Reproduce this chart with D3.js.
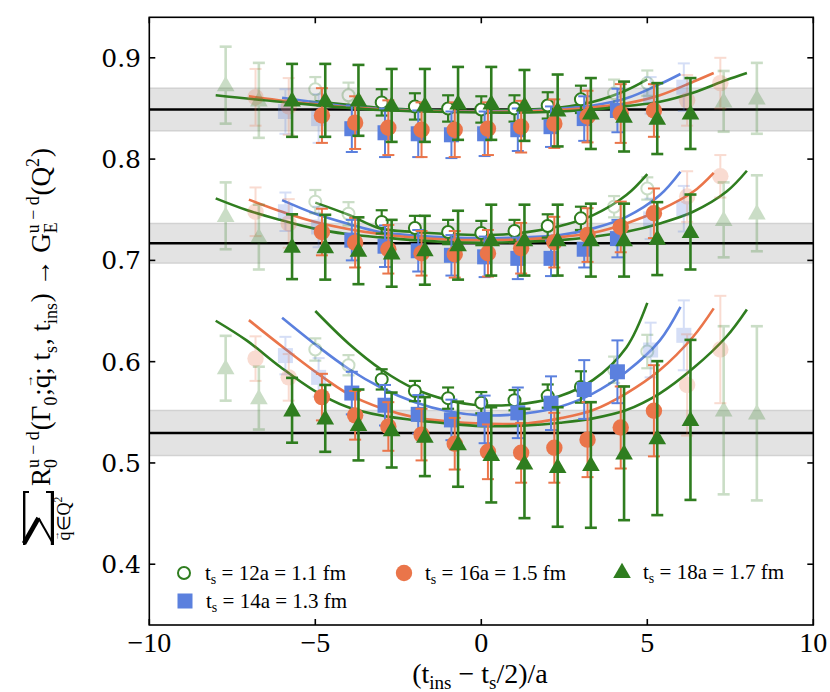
<!DOCTYPE html>
<html>
<head>
<meta charset="utf-8">
<script src="https://cdn.jsdelivr.net/npm/d3@7"></script>
<style>
  body { margin: 0; background: #fff; }
  svg { display: block; }
</style>
</head>
<body>
<div id="chart"></div>
<script>
// source-sink separations and the fit window (|x| <= half) for each
const tsList = [12, 14, 16, 18];
const fitHalf = [3, 4, 5, 6];

const xTs12 = [-5, -4, -3, -2, -1, 0, 1, 2, 3, 4, 5];
const xTs14 = [-6, -5, -4, -3, -2, -1, 0, 1, 2, 3, 4, 5, 6];
const xTs16 = [-7, -6, -5, -4, -3, -2, -1, 0, 1, 2, 3, 4, 5, 6, 7];
const xTs18 = [-8, -7, -6, -5, -4, -3, -2, -1, 0, 1, 2, 3, 4, 5, 6, 7, 8];

// top Q^2 bin
const q1Ts12 = [0.869, 0.863, 0.856, 0.852, 0.850, 0.849, 0.850, 0.853, 0.859, 0.865, 0.875];
const q1Ts12Err = [0.012, 0.0125, 0.013, 0.013, 0.013, 0.013, 0.013, 0.013, 0.0135, 0.0135, 0.0125];
const q1Ts14 = [0.847, 0.840, 0.830, 0.826, 0.825, 0.824, 0.825, 0.829, 0.832, 0.840, 0.848, 0.863, 0.871];
const q1Ts14Err = [0.022, 0.024, 0.023, 0.024, 0.023, 0.023, 0.022, 0.021, 0.020, 0.022, 0.0215, 0.018, 0.0235];
const q1Ts16 = [0.861, 0.852, 0.843, 0.836, 0.831, 0.829, 0.829, 0.830, 0.832, 0.835, 0.842, 0.845, 0.848, 0.858, 0.875];
const q1Ts16Err = [0.028, 0.028, 0.027, 0.026, 0.027, 0.027, 0.027, 0.026, 0.0255, 0.024, 0.0255, 0.029, 0.026, 0.025, 0.025];
const q1Ts18 = [0.873, 0.858, 0.858, 0.858, 0.858, 0.853, 0.853, 0.855, 0.855, 0.853, 0.848, 0.845, 0.842, 0.840, 0.845, 0.857, 0.860];
const q1Ts18Err = [0.038, 0.037, 0.036, 0.036, 0.035, 0.036, 0.036, 0.036, 0.036, 0.035, 0.0355, 0.035, 0.0345, 0.035, 0.035, 0.030, 0.035];

// middle Q^2 bin
const q2Ts12 = [0.758, 0.746, 0.738, 0.732, 0.728, 0.727, 0.729, 0.734, 0.7415, 0.753, 0.771];
const q2Ts12Err = [0.0115, 0.0115, 0.0115, 0.012, 0.012, 0.012, 0.011, 0.0115, 0.0115, 0.0105, 0.011];
const q2Ts14 = [0.748, 0.733, 0.720, 0.714, 0.7095, 0.705, 0.7035, 0.702, 0.702, 0.711, 0.7215, 0.741, 0.751];
const q2Ts14Err = [0.019, 0.02, 0.020, 0.0205, 0.0205, 0.020, 0.020, 0.0205, 0.0175, 0.018, 0.0185, 0.02, 0.0225];
const q2Ts16 = [0.748, 0.7365, 0.728, 0.7175, 0.711, 0.707, 0.706, 0.707, 0.712, 0.718, 0.725, 0.733, 0.7465, 0.763, 0.783];
const q2Ts16Err = [0.024, 0.024, 0.023, 0.0245, 0.024, 0.022, 0.023, 0.023, 0.025, 0.025, 0.0265, 0.025, 0.0245, 0.025, 0.021];
const q2Ts18 = [0.744, 0.723, 0.7135, 0.713, 0.7095, 0.707, 0.710, 0.715, 0.720, 0.720, 0.720, 0.720, 0.720, 0.7215, 0.728, 0.740, 0.7465];
const q2Ts18Err = [0.033, 0.032, 0.032, 0.032, 0.033, 0.033, 0.034, 0.034, 0.035, 0.035, 0.035, 0.036, 0.036, 0.036, 0.037, 0.037, 0.0375];

// bottom Q^2 bin
const q3Ts12 = [0.612, 0.5965, 0.5825, 0.571, 0.564, 0.5595, 0.562, 0.566, 0.575, 0.592, 0.610];
const q3Ts12Err = [0.011, 0.010, 0.010, 0.010, 0.0105, 0.0105, 0.010, 0.0115, 0.0155, 0.013, 0.0165];
const q3Ts14 = [0.606, 0.5845, 0.569, 0.557, 0.548, 0.5425, 0.543, 0.5495, 0.559, 0.5725, 0.590, 0.6115, 0.626];
const q3Ts14Err = [0.0185, 0.019, 0.021, 0.020, 0.019, 0.020, 0.0235, 0.025, 0.0265, 0.029, 0.031, 0.027, 0.0345];
const q3Ts16 = [0.603, 0.5845, 0.565, 0.547, 0.536, 0.528, 0.519, 0.511, 0.510, 0.515, 0.523, 0.535, 0.5515, 0.577, 0.612];
const q3Ts16Err = [0.022, 0.023, 0.023, 0.024, 0.024, 0.0255, 0.0255, 0.027, 0.0295, 0.0345, 0.037, 0.0405, 0.045, 0.05, 0.053];
const q3Ts18 = [0.5935, 0.564, 0.552, 0.544, 0.5375, 0.5325, 0.526, 0.5185, 0.508, 0.4995, 0.496, 0.498, 0.5095, 0.5245, 0.5425, 0.552, 0.549];
const q3Ts18Err = [0.032, 0.031, 0.032, 0.033, 0.035, 0.037, 0.039, 0.042, 0.047, 0.054, 0.059, 0.062, 0.066, 0.076, 0.079, 0.083, 0.086];

// fitted curves, [x, R]
const fit1Ts12 = [[-5, 0.857], [-3, 0.8505], [-1, 0.848], [0, 0.8478], [1, 0.8485], [2.37, 0.851], [3.37, 0.8566], [4.37, 0.868], [5, 0.8787]];
const fit1Ts14 = [[-6, 0.8605], [-5, 0.856], [-4, 0.852], [-2, 0.848], [0, 0.847], [2, 0.849], [3.37, 0.853], [4.37, 0.860], [5.38, 0.874], [6, 0.884]];
const fit1Ts16 = [[-7, 0.862], [-5.07, 0.8543], [-3, 0.849], [-1, 0.847], [1, 0.847], [3, 0.850], [4.37, 0.855], [5.38, 0.863], [6.38, 0.8763], [7, 0.885]];
const fit1Ts18 = [[-8, 0.863], [-6.06, 0.8566], [-3.05, 0.8484], [0, 0.846], [2, 0.8465], [3.37, 0.849], [4.37, 0.8523], [5.38, 0.8566], [6.38, 0.8655], [7.38, 0.878], [8, 0.885]];

const fit2Ts12 = [[-5, 0.757], [-4, 0.745], [-3.05, 0.7316], [-2, 0.728], [0, 0.725], [1, 0.7265], [2.37, 0.734], [3.37, 0.7447], [4.37, 0.7645], [5, 0.7852]];
const fit2Ts14 = [[-6, 0.7595], [-5, 0.746], [-4, 0.736], [-3.05, 0.728], [-1, 0.7225], [0, 0.7217], [1, 0.7225], [2.37, 0.725], [3.37, 0.7316], [4.37, 0.743], [5.38, 0.7645], [6, 0.7875]];
const fit2Ts16 = [[-7, 0.760], [-6, 0.748], [-5, 0.738], [-3.05, 0.726], [-1, 0.7205], [0, 0.720], [1, 0.7205], [2.37, 0.723], [3.37, 0.7273], [4.37, 0.7365], [5.38, 0.7497], [6.38, 0.7677], [7, 0.7865]];
const fit2Ts18 = [[-8, 0.7612], [-7.07, 0.7497], [-6.06, 0.740], [-5.06, 0.7316], [-4.05, 0.726], [-3.05, 0.7227], [-1, 0.718], [0, 0.7174], [1, 0.718], [2.37, 0.720], [3.37, 0.7233], [4.37, 0.7282], [5.38, 0.7365], [6.38, 0.748], [7.38, 0.7677], [8, 0.7885]];

const fit3Ts12 = [[-5, 0.650], [-4, 0.618], [-3, 0.592], [-2, 0.573], [-1, 0.562], [0, 0.557], [1.36, 0.5588], [2.37, 0.566], [3.37, 0.582], [4.37, 0.614], [5, 0.658]];
const fit3Ts14 = [[-6, 0.6433], [-5, 0.617], [-4, 0.593], [-3, 0.574], [-2, 0.560], [-1, 0.551], [0, 0.547], [1.36, 0.549], [2.37, 0.5555], [3.37, 0.5687], [4.37, 0.590], [5.38, 0.621], [6, 0.654]];
const fit3Ts16 = [[-7, 0.641], [-6, 0.615], [-5, 0.590], [-4, 0.568], [-3, 0.554], [-2, 0.545], [-1, 0.541], [0, 0.539], [1.36, 0.539], [2.37, 0.544], [3.37, 0.5522], [4.37, 0.5687], [5.38, 0.5917], [6.38, 0.6246], [7, 0.6526]];
const fit3Ts18 = [[-8, 0.6404], [-7.07, 0.621], [-6.06, 0.595], [-5.06, 0.572], [-4.05, 0.5555], [-3.05, 0.547], [-2.04, 0.5424], [-1.04, 0.539], [0, 0.5364], [1.36, 0.537], [2.37, 0.5397], [3.37, 0.544], [4.37, 0.5522], [5.38, 0.5687], [6.38, 0.5934], [7.38, 0.6246], [8, 0.6516]];

// plateau results G_E(Q^2) with their errors
const gMean = [0.849, 0.717, 0.5295];
const gErr = [0.021, 0.0195, 0.0222];

const xTicks = [-10, -5, 0, 5, 10];
const yTicks = [0.4, 0.5, 0.6, 0.7, 0.8, 0.9];

// ---- styles ----
const green = "#2f7d1f", orange = "#ea754a", blue = "#5b80de";
const style = {
  12: { color: green, shape: "open", dodge: 0.0, sw: 2.2 },
  14: { color: blue, shape: "square", dodge: 0.1, sw: 2 },
  16: { color: orange, shape: "circle", dodge: 0.2, sw: 2 },
  18: { color: green, shape: "triangle", dodge: 0.3, sw: 2.6 }
};
const fadeAlpha = 0.25;

const W = 830, H = 692;
const svg = d3.select("#chart").append("svg").attr("width", W).attr("height", H);

const x = d3.scaleLinear().domain([-10, 10]).range([149.3, 813.3]);
const y = d3.scaleLinear().domain([0.34, 0.94]).range([625, 17.3]);

const xsBy = { 12: xTs12, 14: xTs14, 16: xTs16, 18: xTs18 };
const groups = [
  { vals: [q1Ts12, q1Ts14, q1Ts16, q1Ts18], errs: [q1Ts12Err, q1Ts14Err, q1Ts16Err, q1Ts18Err], fits: [fit1Ts12, fit1Ts14, fit1Ts16, fit1Ts18] },
  { vals: [q2Ts12, q2Ts14, q2Ts16, q2Ts18], errs: [q2Ts12Err, q2Ts14Err, q2Ts16Err, q2Ts18Err], fits: [fit2Ts12, fit2Ts14, fit2Ts16, fit2Ts18] },
  { vals: [q3Ts12, q3Ts14, q3Ts16, q3Ts18], errs: [q3Ts12Err, q3Ts14Err, q3Ts16Err, q3Ts18Err], fits: [fit3Ts12, fit3Ts14, fit3Ts16, fit3Ts18] }
];

// bands and plateau lines
const bands = svg.append("g");
gMean.forEach((g, i) => {
  bands.append("rect")
    .attr("x", x(-10)).attr("width", x(10) - x(-10))
    .attr("y", y(g + gErr[i])).attr("height", y(g - gErr[i]) - y(g + gErr[i]))
    .attr("fill", "#e3e3e3");
  [g + gErr[i], g - gErr[i]].forEach(v => {
    bands.append("line").attr("x1", x(-10)).attr("x2", x(10))
      .attr("y1", y(v)).attr("y2", y(v))
      .attr("stroke", "#d2d2d2").attr("stroke-width", 1.5);
  });
  bands.append("line").attr("x1", x(-10)).attr("x2", x(10))
    .attr("y1", y(g)).attr("y2", y(g))
    .attr("stroke", "#000").attr("stroke-width", 2.5);
});

// fit curves
const line = d3.line().x(d => x(d[0])).y(d => y(d[1])).curve(d3.curveCatmullRom.alpha(0.5));
const curves = svg.append("g");
groups.forEach(gr => {
  gr.fits.forEach((f, k) => {
    curves.append("path").datum(f)
      .attr("d", line).attr("fill", "none")
      .attr("stroke", style[tsList[k]].color).attr("stroke-width", 2.6);
  });
});

function marker(sel, shape, color, px, py) {
  if (shape === "open") {
    sel.append("circle").attr("cx", px).attr("cy", py).attr("r", 6)
      .attr("fill", "#fff").attr("stroke", color).attr("stroke-width", 2);
  } else if (shape === "circle") {
    sel.append("circle").attr("cx", px).attr("cy", py).attr("r", 8.2).attr("fill", color);
  } else if (shape === "square") {
    sel.append("rect").attr("x", px - 7.5).attr("y", py - 7.5)
      .attr("width", 15).attr("height", 15).attr("fill", color);
  } else {
    sel.append("path").attr("transform", `translate(${px},${py + 1})`)
      .attr("d", d3.symbol(d3.symbolTriangle, 135)()).attr("fill", color);
  }
}

// data points
const pts = svg.append("g");
groups.forEach(gr => {
  tsList.forEach((ts, k) => {
    const st = style[ts];
    const xs = xsBy[ts];
    xs.forEach((xv, i) => {
      const inFit = Math.abs(xv) <= fitHalf[k];
      const g = pts.append("g").attr("opacity", inFit ? 1 : fadeAlpha);
      const px = x(xv + st.dodge);
      const v = gr.vals[k][i], e = gr.errs[k][i];
      const y1 = y(v + e), y2 = y(v - e);
      g.append("line").attr("x1", px).attr("x2", px).attr("y1", y1).attr("y2", y2)
        .attr("stroke", st.color).attr("stroke-width", st.sw);
      [y1, y2].forEach(yy => g.append("line").attr("x1", px - 6).attr("x2", px + 6)
        .attr("y1", yy).attr("y2", yy).attr("stroke", st.color).attr("stroke-width", st.sw));
      marker(g, st.shape, st.color, px, y(v));
    });
  });
});

// frame and ticks (inward, all sides)
const frame = svg.append("g").attr("stroke", "#000").attr("stroke-width", 1.6);
frame.append("rect").attr("x", x(-10)).attr("y", y(0.94))
  .attr("width", x(10) - x(-10)).attr("height", y(0.34) - y(0.94)).attr("fill", "none");
xTicks.forEach(t => {
  frame.append("line").attr("x1", x(t)).attr("x2", x(t)).attr("y1", y(0.34)).attr("y2", y(0.34) - 6);
  frame.append("line").attr("x1", x(t)).attr("x2", x(t)).attr("y1", y(0.94)).attr("y2", y(0.94) + 6);
});
yTicks.forEach(t => {
  frame.append("line").attr("x1", x(-10)).attr("x2", x(-10) + 6).attr("y1", y(t)).attr("y2", y(t));
  frame.append("line").attr("x1", x(10)).attr("x2", x(10) - 6).attr("y1", y(t)).attr("y2", y(t));
});

svg.append("g").selectAll("text").data(xTicks).join("text")
  .attr("x", d => x(d)).attr("y", 652)
  .attr("text-anchor", "middle")
  .attr("font-family", "Liberation Serif").attr("font-size", 28)
  .text(d => d < 0 ? "\u2212" + Math.abs(d) : d);

svg.append("g").selectAll("text").data(yTicks).join("text")
  .attr("x", 141).attr("y", d => y(d) + 9)
  .attr("text-anchor", "end")
  .attr("font-family", "DejaVu Serif").attr("font-size", 25)
  .text(d => d.toFixed(1));

// x label
const xl = svg.append("text").attr("x", 480).attr("y", 683).attr("text-anchor", "middle")
  .attr("font-family", "Liberation Serif").attr("font-size", 28);
xl.append("tspan").text("(t");
xl.append("tspan").attr("dy", 6).attr("font-size", 19).text("ins");
xl.append("tspan").attr("dy", -6).text(" \u2212 t");
xl.append("tspan").attr("dy", 6).attr("font-size", 19).text("s");
xl.append("tspan").attr("dy", -6).text("/2)/a");

// y label, laid out piece by piece in a rotated frame
function layout(g, parts, x0, fs) {
  let cx = x0;
  parts.forEach(p => {
    if (p.t !== undefined) {
      const t = g.append("text").attr("x", cx).attr("y", 0).attr("font-size", fs).text(p.t);
      const w = t.node().getComputedTextLength();
      if (p.vec) {
        g.append("text").attr("x", cx + w / 2).attr("y", -fs * 0.62)
          .attr("text-anchor", "middle").attr("font-size", fs * 0.5).text("\u2192");
      }
      cx += w;
    } else {
      let w = 0;
      if (p.sup) {
        const t = g.append("text").attr("x", cx).attr("y", -fs * 0.42).attr("font-size", fs * 0.66).text(p.sup);
        w = Math.max(w, t.node().getComputedTextLength());
      }
      if (p.sub) {
        const t = g.append("text").attr("x", cx).attr("y", fs * 0.26).attr("font-size", fs * 0.66).text(p.sub);
        w = Math.max(w, t.node().getComputedTextLength());
      }
      cx += w + 1;
    }
  });
  return cx - x0;
}

const yl = svg.append("g").attr("transform", "translate(50,340) rotate(-90)")
  .attr("font-family", "Liberation Serif");

// big summation sign, drawn as strokes so its box is exact
const sw0 = 54, sh0 = 31;
const sig = yl.append("g").attr("transform", "translate(-205,-27)")
  .attr("stroke", "#000").attr("fill", "none").attr("stroke-linecap", "butt");
sig.append("line").attr("x1", 0).attr("y1", 1.2).attr("x2", sw0).attr("y2", 1.2).attr("stroke-width", 2.4);
sig.append("line").attr("x1", 0).attr("y1", sh0 - 1.6).attr("x2", sw0).attr("y2", sh0 - 1.6).attr("stroke-width", 3.2);
sig.append("line").attr("x1", 1.5).attr("y1", 1).attr("x2", sw0 * 0.5).attr("y2", sh0 * 0.5).attr("stroke-width", 4.6);
sig.append("line").attr("x1", sw0 * 0.5).attr("y1", sh0 * 0.5).attr("x2", 1.5).attr("y2", sh0 - 1).attr("stroke-width", 2);
sig.append("line").attr("x1", sw0 - 1).attr("y1", 0).attr("x2", sw0 - 1).attr("y2", 6).attr("stroke-width", 2);
sig.append("line").attr("x1", sw0 - 1).attr("y1", sh0).attr("x2", sw0 - 1).attr("y2", sh0 - 8).attr("stroke-width", 2);

const sub = yl.append("g");
const subW = layout(sub, [{ t: "q", vec: true }, { t: "\u2208Q" }, { sup: "2" }], 0, 18);
sub.attr("transform", `translate(${-178 - subW / 2},20)`);
layout(yl, [
  { t: "R" }, { sup: "u \u2212 d", sub: "0" }, { t: "(\u0393" }, { sub: "0" }, { t: "; " },
  { t: "q", vec: true }, { t: "; t" }, { sub: "s" }, { t: ", t" }, { sub: "ins" },
  { t: ") \u2192 G" }, { sup: "u \u2212 d", sub: "E" }, { t: "(Q" }, { sup: "2" }, { t: ")" }
], -146, 27);

// legend
const legendItems = [
  { ts: 12, label: "12a = 1.1 fm", mx: 184, my: 573 },
  { ts: 16, label: "16a = 1.5 fm", mx: 404, my: 573 },
  { ts: 18, label: "18a = 1.7 fm", mx: 622, my: 572 },
  { ts: 14, label: "14a = 1.3 fm", mx: 185, my: 601 }
];
const lg = svg.append("g");
legendItems.forEach(it => {
  const st = style[it.ts];
  marker(lg, st.shape, st.color, it.mx, it.my);
  const t = lg.append("text").attr("x", it.mx + 21).attr("y", it.my + 7)
    .attr("font-family", "Liberation Serif").attr("font-size", 21);
  t.append("tspan").text("t");
  t.append("tspan").attr("dy", 4).attr("font-size", 14).text("s");
  t.append("tspan").attr("dy", -4).text(" = " + it.label);
});
</script>
</body>
</html>
